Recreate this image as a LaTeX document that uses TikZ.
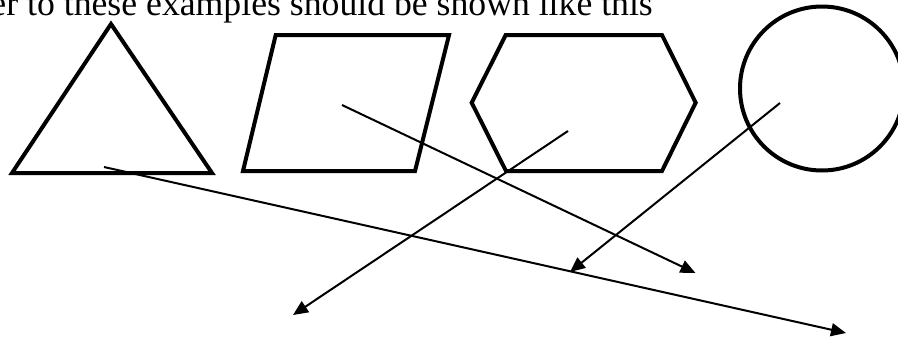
\documentclass[tikz,border=0pt]{standalone}
\usepackage{fontspec}
\setmainfont{Liberation Serif}
\usetikzlibrary{arrows.meta}
\begin{document}
\begin{tikzpicture}[x=1pt,y=-1pt,
  shapeline/.style={line width=4pt,line join=miter},
  connector/.style={line width=2pt,-{Triangle[length=15pt,width=13pt]}}]
\useasboundingbox (0,0) rectangle (898,338);
\clip (0,0) rectangle (898,338);
\node[anchor=base west,inner sep=0pt,font=\fontsize{35.7}{40}\selectfont] (caption) at (-9.7,15) {er to these examples should be shown like this};
% shapes
\draw[shapeline] (111,24) -- (212,173) -- (12,173) -- cycle;
\draw[shapeline] (275.7,35) -- (449,35) -- (415,171) -- (243,171) -- cycle;
\draw[shapeline] (505.7,35) -- (662,35) -- (695.7,102.7) -- (662,171) -- (506,171) -- (471.7,102.7) -- cycle;
\draw[line width=4pt] (822,88.5) circle (82);
% connector endpoints
\coordinate (s1) at (104,167);
\coordinate (e1) at (846,333);
\coordinate (s2) at (342,105);
\coordinate (e2) at (695.5,273);
\coordinate (s3) at (568,131);
\coordinate (e3) at (293,315);
\coordinate (s4) at (780,103);
\coordinate (e4) at (570,272);
\draw[connector] (s1) -- (e1);
\draw[connector] (s2) -- (e2);
\draw[connector] (s3) -- (e3);
\draw[connector] (s4) -- (e4);
\end{tikzpicture}
\end{document}
